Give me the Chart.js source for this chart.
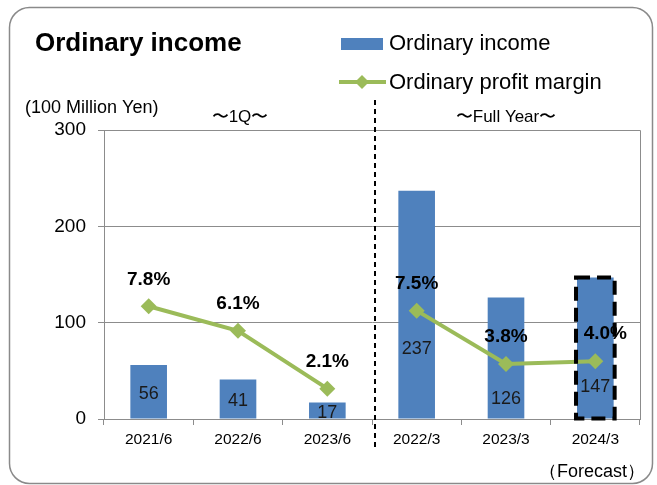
<!DOCTYPE html>
<html>
<head>
<meta charset="utf-8">
<script src="https://cdn.jsdelivr.net/npm/chart.js@4"></script>
<style>
  html, body { margin: 0; padding: 0; background: #fff; }
  #wrap { width: 657px; height: 485px; }
</style>
</head>
<body>
<div id="wrap"><canvas id="incomeChart" width="657" height="485"></canvas></div>
<script>
const categories = ["2021/6", "2022/6", "2023/6", "2022/3", "2023/3", "2024/3"];
const ordinaryIncome = [56, 41, 17, 237, 126, 147];
const profitMargin = [7.8, 6.1, 2.1, 7.5, 3.8, 4.0];
const yTicks = [0, 100, 200, 300];

const FONT = "'Liberation Sans', Arial, sans-serif";
const BLUE = "#4F81BD";
const GREEN = "#9BBB59";
// where the value sits inside each bar, as a fraction of its height
const barLabelPos = [0.47, 0.47, 0.42, 0.31, 0.17, 0.23];
// small sideways nudge of the margin labels
const marginLabelShift = [0, 0, 0, 0, 0, 10];

const decorations = {
    id: "decorations",
    beforeDraw(chart) {
        const c = chart.ctx;
        c.save();
        c.fillStyle = "#fff";
        c.fillRect(0, 0, chart.width, chart.height);
        // rounded frame
        c.strokeStyle = "#8a8a8a";
        c.lineWidth = 1.5;
        c.beginPath();
        c.roundRect(9.5, 7.5, 643, 476, 20);
        c.stroke();
        c.restore();
    },
    afterDatasetsDraw(chart) {
        const c = chart.ctx;
        const area = chart.chartArea;
        const x = chart.scales.x;
        c.save();
        // plot frame top/right
        c.strokeStyle = "#8c8c8c";
        c.lineWidth = 1;
        c.beginPath();
        c.moveTo(area.left, area.top + 0.5);
        c.lineTo(area.right + 0.5, area.top + 0.5);
        c.lineTo(area.right + 0.5, area.bottom);
        c.stroke();

        // bar values
        const bars = chart.getDatasetMeta(1).data;
        c.font = "18px " + FONT;
        c.fillStyle = "#1a1a1a";
        c.textAlign = "center";
        c.textBaseline = "middle";
        bars.forEach((b, i) => {
            const y = b.base - (b.base - b.y) * barLabelPos[i];
            c.fillText(String(ordinaryIncome[i]), b.x, y + 1);
        });

        // margin labels
        const pts = chart.getDatasetMeta(0).data;
        c.font = "bold 19px " + FONT;
        c.fillStyle = "#000";
        pts.forEach((p, i) => {
            c.fillText(profitMargin[i].toFixed(1) + "%", p.x + marginLabelShift[i], p.y - 27);
        });

        // separator between 1Q and full year
        const sepX = (x.getPixelForValue(2) + x.getPixelForValue(3)) / 2 + 3;
        c.strokeStyle = "#000";
        c.lineWidth = 2;
        c.setLineDash([5, 4]);
        c.beginPath();
        c.moveTo(sepX, 100);
        c.lineTo(sepX, 451);
        c.stroke();

        // forecast box
        const fb = bars[5];
        c.lineWidth = 4;
        c.setLineDash([14, 7]);
        c.strokeRect(fb.x - fb.width / 2 - 1, fb.y, fb.width + 2, fb.base - fb.y);
        c.setLineDash([]);

        // texts
        c.fillStyle = "#000";
        c.textAlign = "left";
        c.font = "bold 26px " + FONT;
        c.fillText("Ordinary income", 35, 44);
        c.font = "18px " + FONT;
        c.fillText("(100 Million Yen)", 25, 108);
        c.textAlign = "center";
        c.font = "17px " + FONT;
        c.fillText("\u301c1Q\u301c", 240, 117);
        c.fillText("\u301cFull Year\u301c", 506, 117);
        c.textAlign = "right";
        c.font = "18px " + FONT;
        c.fillText("\uff08Forecast\uff09", 645, 472);

        // legend
        c.fillStyle = BLUE;
        c.fillRect(341, 38, 42, 12);
        c.strokeStyle = GREEN;
        c.lineWidth = 4;
        c.beginPath();
        c.moveTo(339, 82);
        c.lineTo(386, 82);
        c.stroke();
        c.fillStyle = GREEN;
        c.beginPath();
        c.moveTo(362, 75); c.lineTo(369, 82); c.lineTo(362, 89); c.lineTo(355, 82);
        c.closePath();
        c.fill();
        c.fillStyle = "#000";
        c.textAlign = "left";
        c.font = "22px " + FONT;
        c.fillText("Ordinary income", 389, 44);
        c.fillText("Ordinary profit margin", 389, 83);
        c.restore();
    }
};

const ctx = document.getElementById("incomeChart").getContext("2d");
const chart = new Chart(ctx, {
    type: "bar",
    data: {
        labels: categories,
        datasets: [{
            type: "line",
            label: "Ordinary profit margin",
            data: profitMargin,
            yAxisID: "y1",
            order: 0,
            borderColor: GREEN,
            backgroundColor: GREEN,
            borderWidth: 4,
            pointStyle: "rectRot",
            pointRadius: 8,
            pointBorderWidth: 0,
            tension: 0,
            segment: {
                borderColor: s => s.p0DataIndex === 2 ? "rgba(0,0,0,0)" : GREEN
            }
        }, {
            label: "Ordinary income",
            data: ordinaryIncome,
            yAxisID: "y",
            order: 1,
            backgroundColor: BLUE,
            barPercentage: 0.41,
            categoryPercentage: 1
        }]
    },
    options: {
        responsive: false,
        animation: false,
        layout: { padding: { top: 130, right: 17, left: 0, bottom: 0 } },
        scales: {
            x: {
                afterFit: s => { s.height = 66; },
                grid: {
                    offset: true,
                    drawOnChartArea: false,
                    drawTicks: true,
                    tickLength: 6,
                    color: "#8c8c8c"
                },
                border: { color: "#8c8c8c" },
                ticks: { color: "#000", font: { family: FONT, size: 15.5 }, padding: 5 }
            },
            y: {
                min: 0,
                max: 300,
                afterFit: s => { s.width = 104; },
                afterBuildTicks: s => { s.ticks = yTicks.map(v => ({ value: v })); },
                grid: { color: "#8c8c8c", tickLength: 6 },
                border: { color: "#8c8c8c" },
                ticks: { color: "#000", font: { family: FONT, size: 19 }, padding: 12 }
            },
            y1: { display: false, min: 0, max: 20 }
        },
        plugins: {
            legend: { display: false },
            tooltip: { enabled: false }
        }
    },
    plugins: [decorations]
});
</script>
</body>
</html>
